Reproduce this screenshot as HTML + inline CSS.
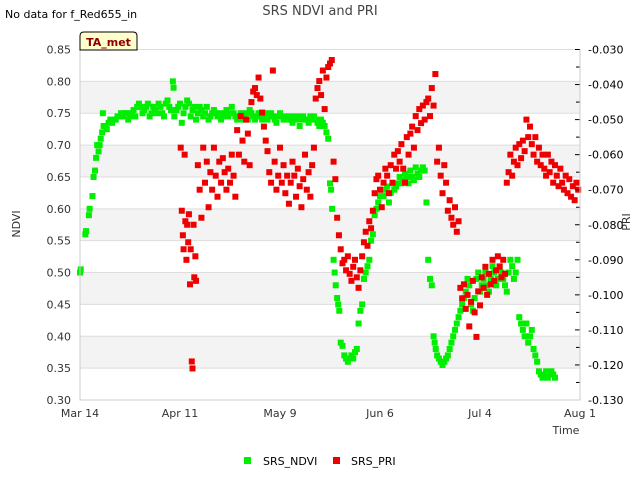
<!DOCTYPE html>
<html><head><meta charset="utf-8"><style>
body{margin:0;background:#fff;font-family:"Liberation Sans","DejaVu Sans",sans-serif;}
svg text{font-family:"DejaVu Sans","Liberation Sans",sans-serif;}
</style></head><body>
<svg id="chart" width="640" height="480" xmlns="http://www.w3.org/2000/svg">
<g id="grid"></g>
<g id="pts"></g>
<g id="axes"></g>
<text x="320" y="15" text-anchor="middle" font-size="13" fill="#444">SRS NDVI and PRI</text>
<text x="5" y="18" font-size="11" fill="#000">No data for f_Red655_in</text>
<g>
<path d="M80,50 L80,36 Q80,32 84,32 L133,32 Q137,32 137,36 L137,50 Z" fill="#ffffcc" stroke="#000" stroke-width="1"/>
<text x="108.5" y="46" text-anchor="middle" font-size="11" font-weight="bold" fill="#8b0000">TA_met</text>
</g>
<text transform="translate(20,224) rotate(-90)" text-anchor="middle" font-size="11" fill="#333">NDVI</text>
<text transform="translate(630,222) rotate(-90)" text-anchor="middle" font-size="11" fill="#333">PRI</text>
<text x="566" y="434" text-anchor="middle" font-size="11" fill="#333">Time</text>
<g><rect x="244" y="457" width="7" height="7" fill="#00ee00"/><text x="263" y="465" font-size="11" fill="#000">SRS_NDVI</text></g>
<g><rect x="333" y="457" width="7" height="7" fill="#ee0000"/><text x="351" y="465" font-size="11" fill="#000">SRS_PRI</text></g>
</svg>
<script>
const xTickLabels=["Mar 14","Apr 11","May 9","Jun 6","Jul 4","Aug 1"];
const xTickDays=[0,28,56,84,112,140];
const yTicks=[0.30,0.35,0.40,0.45,0.50,0.55,0.60,0.65,0.70,0.75,0.80,0.85];
const y2Ticks=[-0.130,-0.120,-0.110,-0.100,-0.090,-0.080,-0.070,-0.060,-0.050,-0.040,-0.030];
const ndviDays=[0,0.2,1.5,1.7,2.5,2.7,3.5,3.8,4.2,4.5,4.8,5.2,5.5,5.8,6.2,6.4,6.6,7,7.5,8,8.5,9,9.5,10,10.5,11,11.5,12,12.5,13,13.5,14,14.5,15,15.5,16,16.5,17,17.5,18,18.5,19,19.5,20,20.5,21,21.5,22,22.5,23,23.5,24,24.5,25,25.5,26,26.2,26.4,27,27.5,28,28.5,29,29.5,30,30.5,31,31.5,32,32.5,33,33.5,34,34.5,35,35.5,36,36.5,37,37.5,38,38.5,39,39.5,40,40.5,41,41.5,42,42.5,43,43.5,44,44.5,45,45.5,46,46.5,47,47.5,48,48.5,49,49.5,50,50.5,51,51.5,52,52.5,53,53.5,54,54.5,55,55.5,56,56.5,57,57.5,58,58.5,59,59.5,60,60.5,61,61.5,62,62.5,63,63.5,64,64.5,65,65.5,66,66.5,67,67.5,68,68.5,69,69.5,70,70.3,70.6,71,71.3,71.6,72,72.3,72.6,73,73.5,74,74.5,75,75.5,76,76.5,77,77.5,78,78.5,79,79.5,80,80.5,81,81.5,82,82.5,83,83.5,84,84.5,85,85.5,86,86.5,87,87.5,88,88.5,89,89.5,90,90.5,91,91.5,92,92.5,93,93.5,94,94.5,95,95.5,96,96.5,97,97.5,98,98.5,99,99.3,99.6,100,100.5,101,101.5,102,102.5,103,103.5,104,104.5,105,105.5,106,106.5,107,107.5,108,108.5,109,109.5,110,110.5,111,111.5,112,112.5,113,113.5,114,114.5,115,115.5,116,116.5,117,117.5,118,118.5,119,119.5,120,120.5,121,121.5,122,122.5,123,123.5,124,124.5,125,125.5,126,126.5,127,127.5,128,128.5,129,129.5,130,130.5,131,131.5,132,132.5,133,133.5,134,134.5,135,135.5,136,136.5,137,137.5,138,138.5,139,139.5];
const ndviVals=[0.50,0.505,0.56,0.565,0.59,0.60,0.62,0.65,0.66,0.68,0.70,0.69,0.70,0.71,0.72,0.75,0.73,0.73,0.725,0.735,0.74,0.735,0.74,0.74,0.745,0.745,0.75,0.745,0.75,0.75,0.74,0.745,0.75,0.755,0.745,0.76,0.765,0.76,0.75,0.755,0.76,0.765,0.745,0.75,0.76,0.755,0.75,0.765,0.76,0.75,0.745,0.765,0.77,0.76,0.755,0.80,0.79,0.745,0.755,0.76,0.765,0.735,0.75,0.76,0.77,0.765,0.745,0.755,0.76,0.74,0.75,0.76,0.755,0.745,0.75,0.76,0.74,0.745,0.75,0.755,0.75,0.745,0.75,0.74,0.745,0.75,0.755,0.745,0.75,0.76,0.75,0.745,0.74,0.745,0.75,0.74,0.745,0.75,0.74,0.755,0.75,0.745,0.74,0.745,0.75,0.745,0.74,0.745,0.75,0.74,0.745,0.75,0.745,0.74,0.735,0.745,0.75,0.745,0.74,0.745,0.74,0.745,0.74,0.735,0.745,0.74,0.745,0.73,0.74,0.745,0.74,0.74,0.735,0.745,0.74,0.745,0.74,0.735,0.73,0.74,0.735,0.73,0.72,0.71,0.64,0.63,0.60,0.52,0.50,0.48,0.46,0.45,0.44,0.39,0.385,0.37,0.365,0.36,0.365,0.37,0.365,0.375,0.38,0.42,0.44,0.45,0.49,0.50,0.51,0.52,0.55,0.56,0.59,0.60,0.61,0.62,0.63,0.62,0.63,0.635,0.61,0.625,0.64,0.63,0.635,0.64,0.65,0.64,0.645,0.655,0.65,0.64,0.66,0.65,0.645,0.665,0.655,0.65,0.66,0.665,0.66,0.61,0.52,0.49,0.48,0.40,0.39,0.38,0.37,0.365,0.36,0.355,0.36,0.365,0.37,0.38,0.39,0.40,0.41,0.42,0.43,0.44,0.45,0.46,0.47,0.49,0.48,0.45,0.44,0.46,0.49,0.50,0.47,0.48,0.49,0.50,0.48,0.47,0.49,0.51,0.50,0.48,0.49,0.51,0.50,0.49,0.48,0.47,0.50,0.52,0.51,0.49,0.50,0.52,0.43,0.42,0.41,0.40,0.42,0.39,0.40,0.41,0.38,0.37,0.36,0.345,0.34,0.335,0.34,0.345,0.335,0.34,0.345,0.34,0.335];
const priDays=[28.2,28.5,28.8,29,29.3,29.5,29.8,30,30.3,30.5,30.8,31,31.3,31.5,31.8,32,32.3,32.5,33,33.5,34,34.5,35,35.5,36,36.5,37,37.5,38,38.5,39,39.5,40,40.5,41,41.5,42,42.5,43,43.5,44,44.5,45,45.5,46,46.5,47,47.5,48,48.5,49,49.5,50,50.5,51,51.5,52,52.5,53,53.5,54,54.5,55,55.5,56,56.5,57,57.5,58,58.5,59,59.5,60,60.5,61,61.5,62,62.5,63,63.5,64,64.5,65,65.5,66,66.5,67,67.5,68,68.5,69,69.5,70,70.5,71,71.5,72,72.5,73,73.5,74,74.5,75,75.5,76,76.5,77,77.5,78,78.5,79,79.5,80,80.5,81,81.5,82,82.5,83,83.5,84,84.5,85,85.5,86,86.5,87,87.5,88,88.5,89,89.5,90,90.5,91,91.5,92,92.5,93,93.5,94,94.5,95,95.5,96,96.5,97,97.5,98,98.5,99,99.5,100,100.5,101,101.5,102,102.5,103,103.5,104,104.5,105,105.5,106,106.5,107,107.5,108,108.5,109,109.5,110,110.5,111,111.5,112,112.5,113,113.5,114,114.5,115,115.5,116,116.5,117,117.5,118,118.5,119,119.5,120,120.5,121,121.5,122,122.5,123,123.5,124,124.5,125,125.5,126,126.5,127,127.5,128,128.5,129,129.5,130,130.5,131,131.5,132,132.5,133,133.5,134,134.5,135,135.5,136,136.5,137,137.5,138,138.5,139,139.5];
const priVals=[-0.058,-0.076,-0.083,-0.087,-0.060,-0.079,-0.090,-0.080,-0.085,-0.077,-0.097,-0.087,-0.119,-0.121,-0.080,-0.095,-0.089,-0.096,-0.063,-0.070,-0.078,-0.058,-0.068,-0.062,-0.075,-0.065,-0.070,-0.058,-0.066,-0.072,-0.062,-0.068,-0.061,-0.065,-0.070,-0.064,-0.068,-0.060,-0.066,-0.072,-0.053,-0.060,-0.049,-0.056,-0.062,-0.050,-0.054,-0.063,-0.045,-0.042,-0.041,-0.043,-0.038,-0.044,-0.048,-0.052,-0.056,-0.059,-0.065,-0.068,-0.036,-0.062,-0.070,-0.066,-0.058,-0.068,-0.063,-0.071,-0.066,-0.074,-0.068,-0.062,-0.066,-0.072,-0.064,-0.069,-0.075,-0.067,-0.060,-0.070,-0.065,-0.072,-0.063,-0.058,-0.044,-0.041,-0.039,-0.043,-0.036,-0.047,-0.038,-0.035,-0.034,-0.033,-0.062,-0.067,-0.078,-0.083,-0.087,-0.091,-0.090,-0.093,-0.089,-0.094,-0.096,-0.092,-0.090,-0.095,-0.098,-0.093,-0.089,-0.085,-0.082,-0.086,-0.079,-0.081,-0.076,-0.071,-0.067,-0.066,-0.070,-0.075,-0.068,-0.064,-0.066,-0.071,-0.063,-0.068,-0.060,-0.064,-0.059,-0.062,-0.057,-0.064,-0.068,-0.055,-0.060,-0.054,-0.052,-0.058,-0.049,-0.053,-0.047,-0.051,-0.046,-0.050,-0.045,-0.044,-0.049,-0.041,-0.046,-0.037,-0.062,-0.058,-0.066,-0.071,-0.063,-0.068,-0.076,-0.073,-0.078,-0.080,-0.075,-0.082,-0.079,-0.098,-0.101,-0.097,-0.104,-0.100,-0.109,-0.102,-0.096,-0.105,-0.112,-0.099,-0.103,-0.095,-0.098,-0.092,-0.100,-0.094,-0.097,-0.090,-0.096,-0.093,-0.089,-0.092,-0.095,-0.090,-0.094,-0.068,-0.065,-0.060,-0.066,-0.062,-0.058,-0.063,-0.057,-0.061,-0.056,-0.059,-0.050,-0.055,-0.052,-0.057,-0.060,-0.055,-0.062,-0.058,-0.063,-0.060,-0.064,-0.066,-0.060,-0.065,-0.062,-0.068,-0.063,-0.066,-0.069,-0.064,-0.068,-0.070,-0.066,-0.071,-0.067,-0.072,-0.069,-0.073,-0.068,-0.070];

const L=80,R=580,T=49.5,B=400;
const xS=d=>L+(d-0)/140*(R-L);
const yS=v=>B-(v-0.30)/0.55*(B-T);
const y2S=v=>B-(v+0.130)/0.100*(B-T);
const NS="http://www.w3.org/2000/svg";
function mk(tag,attrs,parent){const e=document.createElementNS(NS,tag);for(const k in attrs)e.setAttribute(k,attrs[k]);parent.appendChild(e);return e;}
const grid=document.getElementById('grid'),axes=document.getElementById('axes'),pts=document.getElementById('pts');
for(let i=0;i<yTicks.length-1;i++){
  if(i%2===1){const r=mk('rect',{x:L,y:yS(yTicks[i+1]),width:R-L,height:yS(yTicks[i])-yS(yTicks[i+1]),fill:'#f3f3f3'},grid);
  
  }
}
yTicks.forEach(v=>{const l=mk('line',{x1:L,x2:R,y1:yS(v),y2:yS(v),stroke:'#ddd','stroke-width':1},grid);


const t=mk('text',{x:L-9,y:yS(v)+4,'text-anchor':'end','font-size':11,fill:'#333'},axes);t.textContent=v.toFixed(2);

});
for(let i=0;i<y2Ticks.length;i++){const v=y2Ticks[i];
  const t=mk('text',{x:R+8,y:y2S(v)+4,'font-size':11,fill:'#000'},axes);t.textContent=v.toFixed(3);
  
  
  mk('line',{x1:R-5,x2:R,y1:y2S(v),y2:y2S(v),stroke:'#000'},axes);
  if(i<y2Ticks.length-1){const m=v+0.005;mk('line',{x1:R-4,x2:R,y1:y2S(m),y2:y2S(m),stroke:'#000'},axes);}
}
xTickDays.forEach((d,i)=>{const t=mk('text',{x:xS(d),y:B+17,'text-anchor':'middle','font-size':11,fill:'#333'},axes);t.textContent=xTickLabels[i];

});
mk('path',{d:`M${L},${T} L${L},${B} L${R},${B} L${R},${T}`,fill:'none',stroke:'#ccc'},axes);
const nN=Math.min(ndviDays.length,ndviVals.length);
for(let i=0;i<nN;i++){const r=mk('rect',{x:xS(ndviDays[i])-3,y:yS(ndviVals[i])-3,width:6,height:6,fill:'#00ee00'},pts);

}
const nP=Math.min(priDays.length,priVals.length);
for(let i=0;i<nP;i++){const r=mk('rect',{x:xS(priDays[i])-3,y:y2S(priVals[i])-3,width:6,height:6,fill:'#ee0000'},pts);

}
</script>
</body></html>
